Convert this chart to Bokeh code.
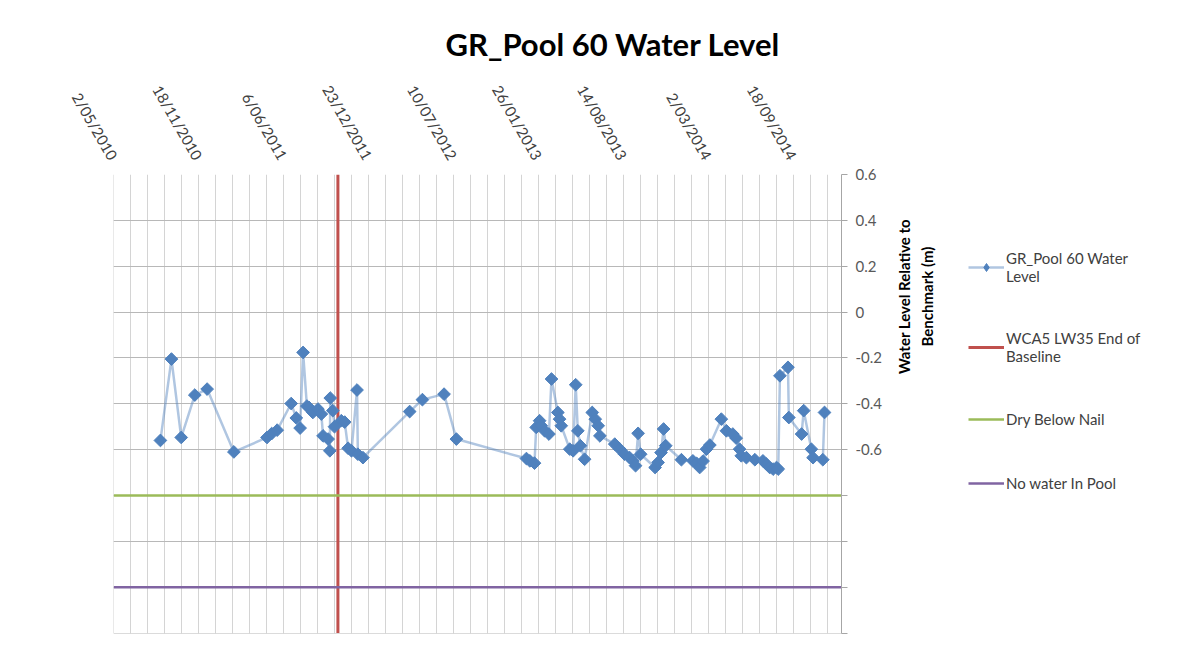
import numpy as np
import pandas as pd
from bokeh.plotting import figure
from bokeh.layouts import row
from bokeh.models import (Range1d, LinearAxis, FixedTicker, Grid, Legend,
                          LegendItem, Title, Label)
from bokeh.embed import file_html
from bokeh.resources import INLINE

# ---------------- data ----------------
title_text = "GR_Pool 60 Water Level"
series_label = "GR_Pool 60 Water\nLevel"
baseline_label = "WCA5 LW35 End of\nBaseline"
dry_label = "Dry Below Nail"
nowater_label = "No water In Pool"
y_title = "Water Level Relative to\nBenchmark (m)"

dates = ["2010-08-20", "2010-09-15", "2010-10-08", "2010-11-09", "2010-12-08",
         "2011-02-09", "2011-04-28", "2011-05-09", "2011-05-22", "2011-06-24",
         "2011-07-06", "2011-07-15", "2011-07-22", "2011-07-31", "2011-08-05",
         "2011-08-14", "2011-08-26", "2011-09-03", "2011-09-07", "2011-09-19",
         "2011-09-23", "2011-09-24", "2011-09-30", "2011-10-04", "2011-10-20",
         "2011-10-28", "2011-11-05", "2011-11-13", "2011-11-26", "2011-11-28",
         "2011-12-10", "2012-03-29", "2012-04-28", "2012-06-18", "2012-07-17",
         "2012-12-29", "2013-01-06", "2013-01-17", "2013-01-21", "2013-01-29",
         "2013-02-02", "2013-02-10", "2013-02-20", "2013-02-26", "2013-03-13",
         "2013-03-17", "2013-03-21", "2013-04-10", "2013-04-18", "2013-04-24",
         "2013-04-29", "2013-05-05", "2013-05-15", "2013-06-02", "2013-06-09",
         "2013-06-16", "2013-06-20", "2013-07-25", "2013-08-06", "2013-08-17",
         "2013-08-29", "2013-09-06", "2013-09-12", "2013-09-18", "2013-09-24",
         "2013-10-28", "2013-11-04", "2013-11-11", "2013-11-17", "2013-11-22",
         "2013-12-29", "2014-01-25", "2014-02-03", "2014-02-10", "2014-02-18",
         "2014-02-26", "2014-03-06", "2014-04-02", "2014-04-14", "2014-04-29",
         "2014-05-07", "2014-05-15", "2014-05-19", "2014-05-31", "2014-06-20",
         "2014-07-09", "2014-07-17", "2014-07-25", "2014-08-02", "2014-08-10",
         "2014-08-14", "2014-08-18", "2014-09-06", "2014-09-08", "2014-10-08",
         "2014-10-13", "2014-10-31", "2014-11-04", "2014-11-27", "2014-12-01"]

levels = [-0.56, -0.205, -0.547, -0.362, -0.336,
          -0.61, -0.547, -0.53, -0.515, -0.399,
          -0.462, -0.506, -0.176, -0.41, -0.416,
          -0.438, -0.423, -0.445, -0.54, -0.554,
          -0.605, -0.375, -0.43, -0.50, -0.474,
          -0.48, -0.594, -0.605, -0.34, -0.62,
          -0.635, -0.434, -0.382, -0.358, -0.554,
          -0.639, -0.649, -0.659, -0.503, -0.474,
          -0.496, -0.518, -0.532, -0.292, -0.438,
          -0.467, -0.496, -0.598, -0.605, -0.317,
          -0.518, -0.583, -0.642, -0.438, -0.467,
          -0.496, -0.54, -0.576, -0.598, -0.62,
          -0.635, -0.649, -0.67, -0.529, -0.62,
          -0.678, -0.656, -0.613, -0.51, -0.583,
          -0.644, -0.649, -0.66, -0.678, -0.65,
          -0.598, -0.58, -0.467, -0.518, -0.532,
          -0.55, -0.598, -0.627, -0.635, -0.644,
          -0.649, -0.663, -0.678, -0.685, -0.678,
          -0.685, -0.278, -0.241, -0.46, -0.532,
          -0.43, -0.598, -0.635, -0.644, -0.438]

baseline_date = "2011-10-12"
dry_level = -0.8
nowater_level = -1.2

x_tick_labels = ["2/05/2010", "18/11/2010", "6/06/2011", "23/12/2011",
                 "10/07/2012", "26/01/2013", "14/08/2013", "2/03/2014",
                 "18/09/2014"]
x_start = "2010-05-02"
x_end = "2015-01-10"
minor_days = 40
y_min, y_max, y_step = -1.4, 0.6, 0.2
y_lowest_label = -0.6

# ---------------- helpers ----------------
DAY_MS = 86400000.0


def to_ms(ts):
    return pd.Timestamp(ts).value / 1e6


xs_ms = to_ms(x_start)
xe_ms = to_ms(x_end)
x_vals = [to_ms(d) for d in dates]
base_ms = to_ms(baseline_date)

major_ticks = [to_ms(pd.to_datetime(l, format="%d/%m/%Y")) for l in x_tick_labels]
minor_ticks = list(np.arange(xs_ms, xe_ms + 1, minor_days * DAY_MS))
y_ticks = [round(y_min + i * y_step, 1) for i in range(int(round((y_max - y_min) / y_step)) + 1)]
y_over = {}
for v in y_ticks:
    if v >= y_lowest_label - 1e-9:
        y_over[v] = "0" if abs(v) < 1e-9 else f"{v:g}"
    else:
        y_over[v] = ""

FONT = "Lato"
W, H = 1203, 662
MAIN_W = 890

SERIES_COLOR = "#4f81bd"
BASE_COLOR = "#c0504d"
DRY_COLOR = "#9bbb59"
NOW_COLOR = "#8064a2"

# ---------------- main chart ----------------
p = figure(width=MAIN_W, height=H, output_backend="svg", toolbar_location=None,
           x_range=Range1d(xs_ms - 0.5 * DAY_MS, xe_ms),
           y_range=Range1d(y_min - 0.002, y_max),
           x_axis_type=None, y_axis_type=None,
           min_border_left=113, min_border_right=MAIN_W - 841,
           min_border_top=174, min_border_bottom=29)
p.outline_line_color = None
p.background_fill_color = "white"
p.border_fill_color = "white"

p.add_layout(Grid(dimension=0, ticker=FixedTicker(ticks=minor_ticks),
                  grid_line_color="#d4d4d4", grid_line_width=1))
p.add_layout(Grid(dimension=1, ticker=FixedTicker(ticks=y_ticks),
                  grid_line_color="#b8b8b8", grid_line_width=1))

xaxis = LinearAxis(ticker=FixedTicker(ticks=major_ticks),
                   major_label_overrides={t: l for t, l in zip(major_ticks, x_tick_labels)},
                   major_label_orientation=-np.pi / 3,
                   axis_line_color=None, major_tick_line_color=None,
                   minor_tick_line_color=None, major_label_standoff=10,
                   major_label_text_font=FONT, major_label_text_font_size="15px",
                   major_label_text_color="#404040")
p.add_layout(xaxis, "above")

yaxis = LinearAxis(ticker=FixedTicker(ticks=y_ticks),
                   major_label_overrides=y_over,
                   axis_line_color="#a6a6a6", major_tick_line_color="#a6a6a6",
                   major_tick_out=6, major_tick_in=0, minor_tick_line_color=None,
                   major_label_standoff=8,
                   major_label_text_font=FONT, major_label_text_font_size="15px",
                   major_label_text_color="#595959")
p.add_layout(yaxis, "right")

p.line(x=[base_ms, base_ms], y=[y_min, y_max], line_color=BASE_COLOR, line_width=3)
p.line(x=[xs_ms, xe_ms], y=[dry_level, dry_level], line_color=DRY_COLOR, line_width=2.5)
p.line(x=[xs_ms, xe_ms], y=[nowater_level, nowater_level], line_color=NOW_COLOR, line_width=2.5)

p.line(x=x_vals, y=levels, line_color=SERIES_COLOR, line_alpha=0.45, line_width=2.5)
p.scatter(x=x_vals, y=levels, marker="square", angle=np.pi / 4, size=9,
          fill_color=SERIES_COLOR, line_color=SERIES_COLOR)

p.title = Title(text=title_text, align="left", offset=332, standoff=24,
                text_font=FONT, text_font_size="31px", text_font_style="bold",
                text_color="#000000")

# ---------------- side panel: axis title + legend ----------------
SIDE_W = W - MAIN_W
s = figure(width=SIDE_W, height=H, output_backend="svg", toolbar_location=None,
           x_range=Range1d(0, SIDE_W), y_range=Range1d(H, 0),
           x_axis_type=None, y_axis_type=None,
           min_border_left=0, min_border_right=0, min_border_top=0, min_border_bottom=0)
s.outline_line_color = None
s.xgrid.visible = False
s.ygrid.visible = False
s.background_fill_color = "white"
s.border_fill_color = "white"

s.add_layout(Label(x=915 - MAIN_W, y=176, text=y_title, angle=np.pi / 2,
                   text_align="center", text_baseline="middle",
                   text_font=FONT, text_font_size="15px", text_font_style="bold",
                   text_color="#000000", text_line_height=1.25))

# legend keys (NaN data: nothing is drawn in the panel, only the legend swatches)
nan = [np.nan]
l_series = s.line(x=nan, y=nan, line_color=SERIES_COLOR, line_alpha=0.45, line_width=2.5)
p_series = s.scatter(x=nan, y=nan, marker="diamond", size=10,
                     fill_color=SERIES_COLOR, line_color=SERIES_COLOR)
l_base = s.line(x=nan, y=nan, line_color=BASE_COLOR, line_width=3)
l_dry = s.line(x=nan, y=nan, line_color=DRY_COLOR, line_width=2.5)
l_now = s.line(x=nan, y=nan, line_color=NOW_COLOR, line_width=2.5)

legend = Legend(items=[LegendItem(label=series_label, renderers=[l_series, p_series]),
                       LegendItem(label=baseline_label, renderers=[l_base]),
                       LegendItem(label=dry_label, renderers=[l_dry]),
                       LegendItem(label=nowater_label, renderers=[l_now])],
                location=(968 - MAIN_W, 140), padding=0, margin=0, spacing=44,
                glyph_width=36, label_standoff=2,
                border_line_color=None, background_fill_alpha=0,
                label_text_font=FONT, label_text_font_size="15px",
                label_text_line_height=1.45,
                label_text_color="#404040")
s.add_layout(legend)

open("out.html", "w").write(file_html(row(p, s), INLINE))
